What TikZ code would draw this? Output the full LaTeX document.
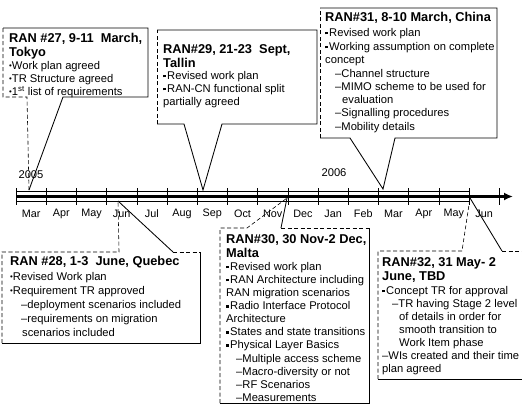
\documentclass[tikz,border=0pt]{standalone}
\usepackage{fontspec}
\usepackage{graphicx}
\setmainfont{Liberation Sans}
\usetikzlibrary{arrows.meta}
\newcommand\rb{\raisebox{0.6pt}{\scalebox{0.7}{•}}}
\newcommand\sqb{\rule[2pt]{2.8pt}{2.8pt}\hspace{1.2pt}}
\begin{document}
\begin{tikzpicture}[x=1pt,y=-1pt,
  ttl/.style={anchor=north west, inner sep=0pt, align=left, font=\bfseries\fontsize{12.8}{13.8}\selectfont},
  bdy/.style={anchor=north west, inner sep=0pt, align=left, font=\fontsize{11.2}{13.1}\selectfont},
  edge/.style={line width=0.85pt},
  faint/.style={line width=0.6pt, dash pattern=on 4pt off 2.5pt},
  tick/.style={line width=0.6pt},
  mon/.style={font=\fontsize{10.8}{12}\selectfont, inner sep=0pt},
]
\useasboundingbox (0,0) rectangle (522,405);
% ---------- timeline ----------
\coordinate (tl0) at (16,196.5);
\coordinate (tl1) at (513,196.5);
\draw[line width=0.5pt] (16,191.5) -- (469,191.5) -- (469,201) -- (16,201);
\draw[line width=2.5pt, -{Latex[length=9pt,width=8pt]}] (tl0) -- (tl1);
\draw[tick] (16,191.5) -- (22,191.5);
\foreach \k in {0,...,16} \draw[tick] ({16+30.2*\k},188) -- ({16+30.2*\k},205);
\foreach \m [count=\i from 0] in {Mar,Apr,May,Jun,Jul,Aug,Sep,Oct,Nov,Dec,Jan,Feb,Mar,Apr,May,Jun}
  \node[mon] (m\i) at ({31.1+30.2*\i},214) {\m};
\node[mon, font=\fontsize{11.2}{12}\selectfont] (y2005) at (31,175) {2005};
\node[mon, font=\fontsize{11.2}{12}\selectfont] (y2006) at (334,173) {2006};
% tips
\coordinate (p27) at (29,190);
\coordinate (p29) at (203,190);
\coordinate (p31) at (383,189);
\coordinate (p28) at (118,201);
\coordinate (p30) at (287,198);
\coordinate (p32) at (470,198);
% ---------- RAN 27 ----------
\draw[edge] (3,28) -- (148,28) -- (148,97) -- (63,97) -- (p27);
\draw[faint] (p27) -- (27,97) -- (3,97) -- (3,28);
\node[ttl] (h27) at (9,33.5) {RAN \#27, 9-11\ \ March,\\Tokyo};
\node[bdy] (b27) at (9,61) {\rb Work plan agreed\\\rb TR Structure agreed\\\rb 1\textsuperscript{st} list of requirements};
% ---------- RAN 29 ----------
\draw[edge] (157,30) -- (317,30) -- (317,124) -- (222,124) -- (p29) -- (184,124) -- (157,124);
\draw[faint] (157,124) -- (157,30);
\node[ttl] (h29) at (163,44.5) {RAN\#29, 21-23\ \ Sept,\\Tallin};
\node[bdy] (b29) at (163,71) {\sqb Revised work plan\\\sqb RAN-CN functional split\\partially agreed};
% ---------- RAN 31 ----------
\draw[edge] (320,8) -- (497,8) -- (497,138) -- (395,138) -- (p31) -- (350,138) -- (320,138);
\draw[faint] (320,138) -- (320,8);
\node[ttl] (h31) at (325,12.5) {RAN\#31, 8-10 March, China};
\node[bdy] (b31) at (325,28) {\sqb Revised work plan\\[1pt]\sqb Working assumption on complete\\concept\\[1pt]
 \hspace*{10pt}–Channel structure\\\hspace*{10pt}–MIMO scheme to be used for\\\hspace*{17pt}evaluation\\
 \hspace*{10pt}–Signalling procedures\\\hspace*{10pt}–Mobility details};
% ---------- RAN 28 ----------
\draw[faint] (173,252) -- (200,252);
\draw[edge] (200,252) -- (200,343) -- (2,343);
\draw[faint] (2,343) -- (2,252) -- (119,252) -- (p28);
\draw[edge] (p28) -- (173,252);
\node[ttl] (h28) at (10,256.5) {RAN \#28, 1-3\ \ June, Quebec};
\node[bdy, font=\fontsize{11.2}{14.1}\selectfont] (b28) at (10,272) {\rb Revised Work plan\\\rb Requirement TR approved\\
 \hspace*{11pt}–deployment scenarios included\\\hspace*{11pt}–requirements on migration\\\hspace*{12pt}scenarios included};
% ---------- RAN 30 ----------
\draw[faint] (281,228) -- (369,228);
\draw[edge] (369,228) -- (369,403) -- (220,403);
\draw[faint] (220,403) -- (220,228) -- (247,228) -- (p30);
\draw[edge] (p30) -- (281,228);
\node[ttl] (h30) at (226,234.5) {RAN\#30, 30 Nov-2 Dec,\\Malta};
\node[bdy] (b30) at (226,262) {\sqb Revised work plan\\\sqb RAN Architecture including\\RAN migration scenarios\\
 \sqb Radio Interface Protocol\\Architecture\\\sqb States and state transitions\\\sqb Physical Layer Basics\\
 \hspace*{10pt}–Multiple access scheme\\\hspace*{10pt}–Macro-diversity or not\\\hspace*{10pt}–RF Scenarios\\\hspace*{10pt}–Measurements};
% ---------- RAN 32 ----------
\draw[faint] (502,251) -- (530,251);
\draw[edge] (530,379) -- (378,379);
\draw[faint] (378,379) -- (378,251) -- (462,251) -- (p32);
\draw[edge] (p32) -- (502,251);
\node[ttl] (h32) at (382,257.5) {RAN\#32, 31 May- 2\\June, TBD};
\node[bdy] (b32) at (382,286) {\sqb Concept TR for approval\\\hspace*{10pt}–TR having Stage 2 level\\
 \hspace*{17pt}of details in order for\\\hspace*{17pt}smooth transition to\\\hspace*{17pt}Work Item phase\\
 –WIs created and their time\\plan agreed};
\end{tikzpicture}
\end{document}
